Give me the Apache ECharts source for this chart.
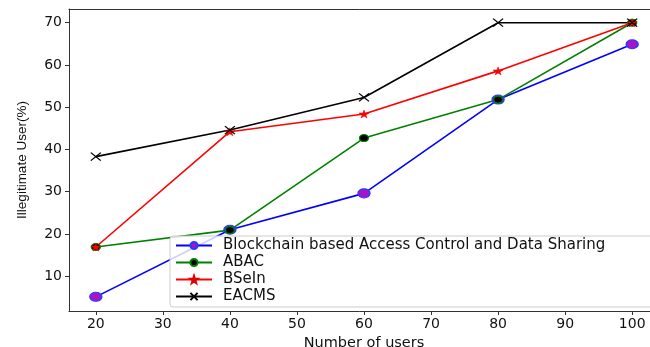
<!DOCTYPE html>
<html><head><meta charset="utf-8">
<script src="https://cdn.jsdelivr.net/npm/echarts@6/dist/echarts.min.js"></script>
<style>html,body{margin:0;padding:0;background:#fff}#c{width:650px;height:347px}</style>
</head><body><div id="c"></div>
<script>
const users = [20, 40, 60, 80, 100];
const blockchain = [5.1, 21.0, 29.6, 51.8, 64.9];
const abac = [16.9, 20.9, 42.7, 51.8, 70.0];
const bsein = [16.9, 44.2, 48.4, 58.6, 70.0];
const eacms = [38.3, 44.6, 52.3, 70.0, 70.0];
const xTicks = [20, 30, 40, 50, 60, 70, 80, 90, 100];
const yTicks = [10, 20, 30, 40, 50, 60, 70];
const names = ['Blockchain based Access Control and Data Sharing', 'ABAC', 'BSeIn', 'EACMS'];

const pair = arr => users.map((u, i) => [u, arr[i]]);
const font = 'DejaVu Sans';
const chart = echarts.init(document.getElementById('c'), null, {renderer: 'canvas'});
chart.setOption({
  animation: false,
  grid: {left: 69, top: 9, width: 590, height: 302, outerBoundsMode: 'none', containLabel: false, show: false},
  xAxis: [{
    type: 'value', min: 16, max: 104,
    name: 'Number of users', nameLocation: 'middle', nameGap: 20,
    nameTextStyle: {fontFamily: font, fontSize: 14.5, color: '#111'},
    axisLine: {lineStyle: {color: '#333', width: 1}},
    axisTick: {show: true, length: 4, customValues: xTicks, lineStyle: {color: '#333'}},
    axisLabel: {customValues: xTicks, fontFamily: font, fontSize: 14, color: '#111', margin: 6},
    splitLine: {show: false}
  }, {
    type: 'value', min: 16, max: 104, position: 'top',
    axisLine: {show: true, lineStyle: {color: '#333', width: 1}},
    axisTick: {show: false}, axisLabel: {show: false}, splitLine: {show: false}
  }],
  yAxis: {
    type: 'value', min: 1.75, max: 73.25,
    name: 'Illegitimate User(%)', nameLocation: 'middle', nameGap: 40,
    nameTextStyle: {fontFamily: 'Liberation Sans Narrow, Liberation Sans', fontSize: 13.5, color: '#111'},
    axisLine: {show: true, lineStyle: {color: '#333', width: 1}},
    axisTick: {show: true, length: 4, customValues: yTicks, lineStyle: {color: '#333'}},
    axisLabel: {customValues: yTicks, fontFamily: font, fontSize: 14, color: '#111', margin: 7},
    splitLine: {show: false}
  },
  legend: {
    orient: 'vertical', left: 170, top: 236,
    backgroundColor: 'rgba(255,255,255,0.8)', borderColor: '#ccc', borderWidth: 1, borderRadius: 3,
    padding: [2, 60, 3, 5], itemGap: 2, itemWidth: 36, itemHeight: 9,
    textStyle: {fontFamily: font, fontSize: 15, color: '#111', lineHeight: 15, padding: [0, 0, 0, 6]},
    data: names
  },
  series: [
    {name: names[0], type: 'line', data: pair(blockchain), symbol: 'circle', symbolSize: [12, 9],
     lineStyle: {color: '#0000ff', width: 1.6}, itemStyle: {color: '#a812c8', borderColor: '#2040ff', borderWidth: 1.2}},
    {name: names[1], type: 'line', data: pair(abac), symbol: 'circle', symbolSize: [9, 7],
     lineStyle: {color: '#008000', width: 1.6}, itemStyle: {color: '#000', borderColor: '#008000', borderWidth: 1.2}},
    {name: names[2], type: 'line', data: pair(bsein), symbol: 'path://M50,0L61,35L98,35L68,57L79,91L50,70L21,91L32,57L2,35L39,35Z', symbolSize: [10, 8],
     lineStyle: {color: '#ff0000', width: 1.6}, itemStyle: {color: '#ff0000', borderColor: '#e00000', borderWidth: 0.5}},
    {name: names[3], type: 'line', data: pair(eacms), symbol: 'path://M0,0L10,10M10,0L0,10', symbolSize: [10, 8],
     lineStyle: {color: '#000', width: 1.6}, itemStyle: {color: '#000', borderColor: '#000', borderWidth: 1.2}}
  ]
});
</script></body></html>
